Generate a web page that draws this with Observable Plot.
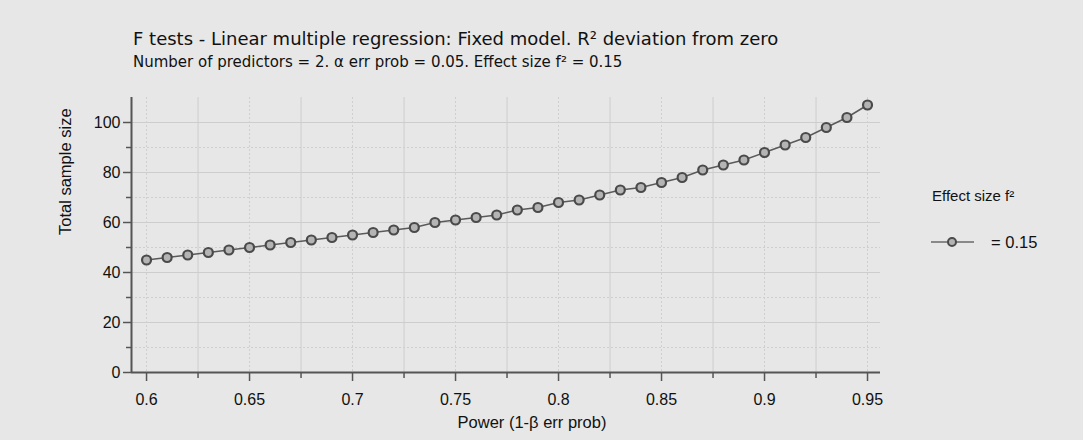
<!DOCTYPE html>
<html><head><meta charset="utf-8">
<script src="https://cdn.jsdelivr.net/npm/d3@7"></script>
<script src="https://cdn.jsdelivr.net/npm/@observablehq/plot@0.6"></script>
<style>
body{margin:0;background:#e7e7e7;}
#wrap{position:relative;width:1083px;height:440px;background:#e7e7e7;overflow:hidden;}
.t{position:absolute;white-space:nowrap;line-height:1;color:#111;}
#title{left:133px;top:30px;font-family:"DejaVu Sans";font-size:18px;}
#subtitle{left:133px;top:55px;font-family:"DejaVu Sans";font-size:15px;}
#chart{position:absolute;left:0;top:80px;}
#legtitle{left:932px;top:188px;font-family:"Liberation Sans";font-size:15px;}
#legswatch{position:absolute;left:929px;top:234px;}
#legtext{left:991px;top:234px;font-family:"Liberation Sans";font-size:16.5px;}
</style></head>
<body><div id="wrap">
<div id="title" class="t">F tests - Linear multiple regression: Fixed model. R² deviation from zero</div>
<div id="subtitle" class="t">Number of predictors = 2. α err prob = 0.05. Effect size f² = 0.15</div>
<div id="chart"></div>
<div id="legtitle" class="t">Effect size f²</div>
<svg id="legswatch" width="48" height="16"><line x1="2" x2="45" y1="8" y2="8" stroke="#6a6a6a" stroke-width="1.5"/><circle cx="23" cy="8" r="4" fill="#b4b4b4" stroke="#4a4a4a" stroke-width="2"/></svg>
<div id="legtext" class="t">= 0.15</div>
</div>
<script>
const power = [0.60,0.61,0.62,0.63,0.64,0.65,0.66,0.67,0.68,0.69,0.70,0.71,0.72,0.73,0.74,0.75,0.76,0.77,0.78,0.79,0.80,0.81,0.82,0.83,0.84,0.85,0.86,0.87,0.88,0.89,0.90,0.91,0.92,0.93,0.94,0.95];
const sampleSize = [45,46,47,48,49,50,51,52,53,54,55,56,57,58,60,61,62,63,65,66,68,69,71,73,74,76,78,81,83,85,88,91,94,98,102,107];
const xTicks = [0.6,0.65,0.7,0.75,0.8,0.85,0.9,0.95];
const xMinor = [0.625,0.675,0.725,0.775,0.825,0.875,0.925];
const yTicks = [0,20,40,60,80,100];
const yMinor = [10,30,50,70,90];
const xDomain = [0.5927,0.9563];
const yDomain = [0,110];
const xLabel = "Power (1-β err prob)";
const yLabel = "Total sample size";

const data = power.map((p,i)=>({power:p, n:sampleSize[i]}));
const axisColor = "#555";
const chart = Plot.plot({
  width:1083, height:360,
  marginLeft:131, marginRight:203, marginTop:17, marginBottom:68,
  x:{domain:xDomain},
  y:{domain:yDomain},
  style:{background:"transparent", fontFamily:"Liberation Sans", fontSize:"16px", color:"#111"},
  marks:[
    Plot.ruleY(yMinor,{stroke:"#cfcfcf", strokeDasharray:"2,2"}),
    Plot.ruleY(yTicks.slice(1),{stroke:"#cdcdcd"}),
    Plot.ruleX(xTicks,{stroke:"#cfcfcf", strokeDasharray:"2,2"}),
    Plot.ruleX(xMinor,{stroke:"#cdcdcd"}),
    Plot.axisX({ticks:xTicks, tickSize:9, tickPadding:12, tickFormat:d=>String(d), label:null, stroke:axisColor, strokeWidth:1.5}),
    Plot.axisX({ticks:xMinor, tickSize:6, tickFormat:()=>"", label:null, stroke:axisColor, strokeWidth:1.5}),
    Plot.axisY({ticks:yTicks, tickSize:8, tickPadding:3, tickFormat:d=>String(d), label:null, stroke:axisColor, strokeWidth:1.5}),
    Plot.axisY({ticks:yMinor, tickSize:5, tickFormat:()=>"", label:null, stroke:axisColor, strokeWidth:1.5}),
    Plot.ruleY([0],{stroke:axisColor, strokeWidth:2}),
    Plot.ruleX([xDomain[0]],{stroke:axisColor, strokeWidth:2}),
    Plot.line(data,{x:"power", y:"n", stroke:"#5a5a5a", strokeWidth:1.5}),
    Plot.dot(data,{x:"power", y:"n", r:4.5, fill:"#b4b4b4", stroke:"#4a4a4a", strokeWidth:2.2}),
    Plot.text([xLabel],{frameAnchor:"bottom", dx:26, dy:55, fontSize:16.5}),
    Plot.text([yLabel],{frameAnchor:"left", dx:-66, rotate:-90, fontSize:16.5})
  ]
});
document.getElementById("chart").appendChild(chart);
</script>
</body></html>
